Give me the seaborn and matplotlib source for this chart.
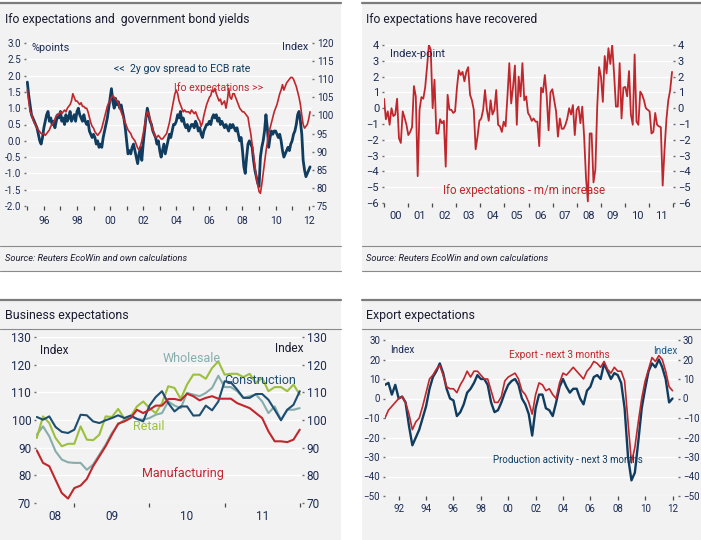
import numpy as np
import matplotlib
matplotlib.use("Agg")
import matplotlib.pyplot as plt
import seaborn as sns
from matplotlib.patches import Rectangle
from matplotlib.lines import Line2D

# ---------------- DATA ----------------
# Panel 1: monthly, Jan 1995 - Feb 2012
spread_2y = [
    1.8, 1.4, 1.1, 0.8, 0.7, 0.6, 0.5, 0.4, 0.2, 0.0, -0.1, 0.1,
    0.4, 0.6, 0.8, 0.9, 0.6, 0.7, 0.5, 0.6, 0.4, 0.6, 0.8, 0.7,
    0.9, 0.6, 0.7, 0.5, 0.8, 0.6, 0.7, 0.9, 0.6, 0.7, 0.8, 0.6,
    0.9, 1.0, 0.8, 0.7, 0.6, 0.8, 0.6, 0.5, 0.6, 0.3, 0.2, 0.1,
    0.2, 0.1, -0.1, 0.0, -0.2, -0.1, -0.2, 0.1, 0.3, 0.5, 0.7, 1.0,
    1.3, 1.6, 1.2, 1.0, 1.3, 1.1, 1.2, 1.0, 1.1, 0.9, 0.7, 0.4,
    0.0, -0.4, -0.3, -0.4, -0.2, -0.1, -0.3, -0.5, -0.7, -0.4, -0.2, -0.6,
    -0.1, 0.3, 0.7, 1.0, 0.8, 0.6, 0.5, 0.3, 0.2, 0.1, -0.1, 0.0,
    -0.3, -0.5, -0.3, -0.1, -0.4, -0.2, 0.0, 0.2, 0.1, 0.3, 0.5, 0.5,
    0.6, 0.8, 0.7, 0.9, 0.6, 0.7, 0.5, 0.4, 0.5, 0.3, 0.4, 0.5,
    0.5, 0.4, 0.6, 0.5, 0.3, 0.4, 0.2, 0.1, 0.3, 0.4, 0.5, 0.5,
    0.6, 0.5, 0.7, 0.8, 0.7, 0.8, 0.6, 0.7, 0.5, 0.6, 0.5, 0.4,
    0.5, 0.4, 0.3, 0.5, 0.4, 0.5, 0.4, 0.3, 0.4, 0.2, 0.0, 0.1,
    -0.3, -0.8, -1.0, -0.5, -0.1, 0.0, -0.1, -0.2, -0.6, -0.9, -1.1, -1.3,
    -1.4, -0.5, -0.2, 0.0, 0.3, 0.8, 0.4, -0.2, 0.1, 0.3, 0.2, 0.3,
    0.3, 0.2, 0.1, 0.2, 0.0, -0.3, -0.5, -0.4, -0.3, -0.2, -0.3, -0.1,
    0.0, 0.2, 0.3, 0.5, 0.8, 0.9, 0.6, 0.2, -0.6, -0.9, -1.1, -1.0,
    -0.9, -0.8,
]
ifo_expect = [
    107, 104, 101, 100.5, 99, 98, 97.5, 96.5, 96, 95.5, 95, 95,
    95, 94.5, 95, 95.5, 96, 97, 97.5, 98, 99, 100, 100, 100.5,
    101, 100.5, 101, 101.5, 101, 102, 102.5, 103, 104, 106, 105, 104,
    104, 103.5, 103, 103.5, 102.5, 102.5, 102, 102, 101, 99.5, 98, 97,
    96.5, 95.5, 95, 94.5, 95, 95.5, 96.5, 98, 99.5, 101, 102.5, 103.5,
    104, 105, 105.5, 105, 104.5, 104, 103.5, 102, 101, 100, 99, 98,
    97, 96, 95.5, 95, 94, 93.5, 93, 92, 91, 90.5, 91.5, 93,
    95, 97, 99.5, 101, 100.5, 99, 97.5, 96, 95, 94, 94, 94.5,
    94, 93.5, 93.5, 94, 94.5, 95, 96.5, 98, 100, 102, 104, 106,
    107, 106, 104, 103, 102, 101, 101.5, 101, 101, 101, 100.5, 101.5,
    101, 100.5, 101, 100, 99, 98.5, 97, 98, 100, 101.5, 103, 104,
    105, 105.5, 107, 106.5, 107.5, 106, 105, 104, 104.5, 103, 103.5, 104,
    102, 104, 107.5, 105, 104.5, 106, 106, 105, 104, 103, 102, 101.5,
    101, 101, 100.5, 100, 99.5, 97, 95, 92, 89, 86, 83, 81,
    79, 78.5, 81, 84, 87, 90, 92.5, 95, 96.5, 98, 99.5, 101,
    102, 103, 104.5, 106, 107, 108.5, 107, 108, 109, 109.5, 110, 110.5,
    110.5, 110, 109, 108, 106.5, 105, 103, 100, 97.5, 96.5, 97, 97.5,
    99, 101,
]

# Panel 2: Ifo expectations m/m change, 2000 - end 2011
ifo_mm = [
    0.6, -0.7, -0.2, -1.05, 0.0, -0.5, -0.4, 0.6, -1.9, -2.2, -0.2, -0.6,
    -1.05, -1.7, -1.5, -1.2, 1.4, 0.75, -4.3, -0.1, 0.7, 0.6, 1.3, 2.6,
    4.0, 3.7, 0.0, 1.8, -1.6, -1.6, -0.7, -0.95, -0.8, -3.7, 0.85, -0.1,
    -0.1, -0.3, -0.2, 1.3, 2.4, 2.1, 2.3, 1.7, 2.3, 2.6, 0.85, 0.5,
    -0.1, -2.6, -1.8, -0.8, -0.65, -0.1, 1.15, -0.1, -0.8, 0.5, -0.4, -0.1,
    1.15, -1.05, -1.15, -1.5, -0.85, -1.15, 0.75, 2.85, 0.3, 1.35, 2.7, -1.05,
    2.0, 0.75, 2.85, 0.5, 0.75, -0.3, -0.5, -0.8, -0.65, -0.85, -0.85, -2.4,
    1.3, 1.0, 2.1, 0.75, -1.4, 1.0, 1.2, 0.5, -0.2, -1.8, -0.65, -1.3,
    -1.3, -1.05, -0.65, 0.0, -0.4, 0.2, -1.7, -0.1, 0.1, -0.95, 0.1, -1.8,
    -4.4, -5.9, -1.6, -1.6, -4.7, -3.9, 0.1, 2.6, 2.0, 0.4, 3.3, 2.2,
    3.8, 2.8, 4.0, 2.2, 0.1, 0.1, 2.85, -0.65, 1.3, 1.35, 0.75, 2.35,
    -0.4, -1.05, 3.4, -0.85, -1.05, 1.05, 0.85, 0.5, 0.0, -0.1, -0.2, -1.6,
    -1.5, -0.3, -1.05, -1.15, -1.2, -4.9, -2.6, -0.7, 0.5, 1.15, 2.3,
]

# Panel 3: monthly, Jul 2008 - Jan 2012
manufacturing = [
    89.0, 84.5, 83.3, 78.4, 73.6, 71.6, 75.4, 76.3, 78.7, 83.3, 86.9, 90.5,
    94.7, 98.7, 99.5, 100.7, 103.7, 102.5, 103.7, 105.2, 105.2, 107.6, 107.6, 107.1,
    109.5, 108.6, 107.1, 108.0, 108.6, 107.7, 107.7, 107.7, 106.1, 105.2, 104.3, 102.5,
    100.7, 95.9, 92.3, 92.3, 92.0, 92.9, 96.5,
]
construction = [
    101.1, 100.1, 101.3, 97.5, 95.7, 95.3, 96.5, 101.9, 101.7, 99.5, 98.9, 99.9,
    100.7, 101.7, 100.7, 101.6, 100.4, 99.5, 105.2, 108.3, 110.4, 106.1, 103.1, 104.9,
    104.9, 101.6, 101.7, 105.2, 103.5, 106.7, 114.0, 113.6, 111.0, 108.0, 108.0, 109.4,
    109.4, 107.3, 103.7, 99.9, 103.7, 105.5, 110.4,
]
wholesale = [
    94.7, 97.7, 94.1, 88.7, 85.7, 84.7, 84.5, 84.5, 82.0, 83.9, 87.5, 91.1,
    95.3, 98.3, 100.1, 101.3, 100.4, 100.1, 100.7, 101.9, 102.5, 106.7, 105.2, 104.3,
    109.8, 109.2, 108.6, 109.8, 111.6, 116.0, 111.9, 111.9, 110.4, 108.0, 108.6, 109.2,
    106.7, 102.5, 104.9, 100.1, 103.7, 103.7, 104.3,
]
retail = [
    93.5, 101.3, 98.9, 93.5, 90.5, 91.4, 91.4, 97.7, 92.9, 92.7, 94.7, 101.3,
    101.1, 104.0, 100.5, 101.3, 104.9, 106.7, 104.3, 102.5, 106.1, 112.2, 111.6, 107.6,
    112.8, 116.4, 116.4, 114.9, 118.8, 121.2, 116.4, 116.7, 116.7, 115.5, 116.7, 113.4,
    115.2, 110.4, 111.9, 111.9, 110.4, 112.8, 109.2,
]

# Panel 4: quarterly, 1991 - 2012
export_3m = [
    -10, -6, -4, -2, 0, 1, -2, -8, -16, -12, -10, -4, 3, 10, 12, 15,
    17, 12, 6, 5, 5, 3, 7, 10, 14, 11, 14, 14, 12, 10, 10, 4,
    -2, -2, 1, 9, 11, 12, 13, 10, 4, 2, -2, -8, 2, 8, 7, 4,
    5, 2, 0, 8, 13, 12, 14, 16, 14, 12, 10, 14, 16, 19, 18, 16,
    19, 15, 13, 16, 14, 14, 9, -12, -33, -25, -12, 0, 9, 15, 21, 19,
    22, 20, 14, 6, 4,
]
production_3m = [
    7, 8, 2, 7, 0, 1, -2, -14, -24, -20, -16, -10, -4, 5, 11, 14,
    18, 13, 5, 0, -1, -9, -7, -3, 3, 5, 8, 12, 10, 10, 7, -2,
    -7, -6, -2, 3, 7, 9, 10, 7, 0, -3, -8, -19, -5, 2, 2, -5,
    -6, -9, -2, 6, 10, 6, 3, 5, 5, 0, -3, 4, 6, 11, 12, 10,
    18, 14, 10, 13, 12, 8, -5, -30, -42, -38, -22, -5, 5, 14, 18, 16,
    20, 16, 10, -2, 0,
]

# time axes (decimal years)
t1 = 1995 + np.arange(len(spread_2y)) / 12
t2 = np.linspace(2000.0, 2011.96, len(ifo_mm))
t3 = 2008.5 + np.arange(len(manufacturing)) / 12
t4 = 1991 + np.arange(len(export_3m)) / 4

# ---------------- STYLE ----------------
sns.set_theme(style="white")
plt.rcParams['font.family'] = ['Roboto', 'DejaVu Sans']

W, H = 701, 540
fig = plt.figure(figsize=(W / 100, H / 100), dpi=100)
fig.patch.set_facecolor('white')

BG = '#f2f2f2'
NAVY = '#1c2b52'
TXT = '#1b1b30'
BLUE = '#0f3c5f'
RED = '#c0272d'
WHOLE = '#86adab'
RETAIL = '#9cc03c'
CONSTR = '#1e4d72'
GRAYLINE = '#8a8a8a'


def px_box(x0, y0, x1, y1):
    return [x0 / W, 1 - y1 / H, (x1 - x0) / W, (y1 - y0) / H]


def ftext(x, y, s, **kw):
    kw.setdefault('va', 'center')
    kw.setdefault('color', TXT)
    fig.text(x / W, 1 - y / H, s, **kw)


def hline(x0, x1, y, lw, color=GRAYLINE):
    fig.add_artist(Line2D([x0 / W, x1 / W], [1 - y / H, 1 - y / H],
                          transform=fig.transFigure, lw=lw, color=color, zorder=1))


# panel backgrounds
for (x0, y0, x1, y1) in [(0, 2, 341, 271), (362, 2, 701, 271), (0, 299, 341, 540), (362, 299, 701, 540)]:
    b = px_box(x0, y0, x1, y1)
    fig.add_artist(Rectangle((b[0], b[1]), b[2], b[3], transform=fig.transFigure,
                             facecolor=BG, edgecolor='none', zorder=0))

for (xa, xb) in [(0, 341), (362, 701)]:
    hline(xa, xb, 2.5, 1.6, '#7c7c7c')
    hline(xa, xb, 246, 0.8)
    hline(xa, xb, 271, 0.8)
    hline(xa, xb, 299.5, 1.6, '#7c7c7c')
    hline(xa, xb, 328.5, 0.8)


def style(ax, fs, xfs=None, both=False):
    ax.set_facecolor(BG)
    for s in ax.spines.values():
        s.set_visible(False)
    ax.set_axisbelow(True)
    ax.grid(axis='y', color='white', lw=1.0)
    ax.grid(axis='x', visible=False)
    ax.tick_params(axis='y', which='both', length=1.5, width=1.0, color='#6d6d6d', pad=2,
                   labelsize=fs, labelcolor=NAVY, left=True, right=both, labelright=both)
    ax.tick_params(axis='x', which='major', length=3, width=0.9, color='#4a4a4a', pad=2,
                   labelsize=xfs or fs, labelcolor=NAVY, bottom=True)
    ax.set_xlabel('')
    ax.set_ylabel('')


# ---------------- PANEL 1 ----------------
ax1 = fig.add_axes(px_box(26, 43, 312, 206))
style(ax1, 7, 7.5)
sns.lineplot(x=t1, y=spread_2y, ax=ax1, color=BLUE, lw=2.0)
ax1.set_ylim(-2.0, 3.0)
ax1.set_yticks(np.arange(-2.0, 3.01, 0.5))
ax1.set_yticklabels([f"{v:.1f}" for v in np.arange(-2.0, 3.01, 0.5)])
yrs = np.arange(1995, 2013)
ax1.set_xticks(yrs)
ax1.set_xticklabels([f"{y % 100:02d}" if y % 2 == 0 else '' for y in yrs])
ax1.tick_params(axis='x', pad=4)
ax1r = ax1.twinx()
ax1r.set_facecolor('none')
for s in ax1r.spines.values():
    s.set_visible(False)
sns.lineplot(x=t1, y=ifo_expect, ax=ax1r, color=RED, lw=1.2)
ax1r.set_ylim(75, 120)
ax1r.set_yticks(np.arange(75, 121, 5))
ax1r.tick_params(axis='y', length=1.5, width=1.0, color='#6d6d6d', pad=2, labelsize=7, labelcolor=NAVY)
ax1r.grid(False)
ax1r.set_ylabel('')
ax1.set_xlim(1994.92, 2012.2)

ftext(5, 19, "Ifo expectations and  government bond yields", fontsize=8.7)
ftext(32, 48, "%points", fontsize=7.8, color=NAVY)
ftext(308, 47, "Index", fontsize=7.8, color=NAVY, ha='right')
ftext(182, 69, "<<  2y gov spread to ECB rate", fontsize=7.6, color=BLUE, ha='center')
ftext(219, 88, "Ifo expectations >>", fontsize=7.6, color=RED, ha='center')
ftext(5, 258, "Source: Reuters EcoWin and own calculations", fontsize=6.7, style='italic')

# ---------------- PANEL 2 ----------------
ax2 = fig.add_axes(px_box(384, 45, 673, 203))
style(ax2, 8, 8, both=True)
sns.lineplot(x=t2, y=ifo_mm, ax=ax2, color=RED, lw=1.3)
ax2.set_ylim(-6, 4)
ax2.set_yticks(np.arange(-6, 5, 1))
ax2.set_xlim(2000.0, 2012.0)
ax2.set_xticks(np.arange(2000, 2013))
ax2.set_xticklabels([])
ax2.set_xticks(np.arange(2000, 2012) + 0.5, minor=True)
ax2.set_xticklabels([f"{y % 100:02d}" for y in range(2000, 2012)], minor=True)
ax2.tick_params(axis='x', which='minor', length=0, pad=6, labelsize=8, labelcolor=NAVY)

ftext(366, 19, "Ifo expectations have recovered", fontsize=8.7)
ftext(390, 54, "Index-point", fontsize=8, color=NAVY)
ftext(524, 191, "Ifo expectations - m/m increase", fontsize=8.3, color=RED, ha='center')
ftext(366, 258, "Source: Reuters EcoWin and own calculations", fontsize=6.7, style='italic')

# ---------------- PANEL 3 ----------------
ax3 = fig.add_axes(px_box(36, 337, 302, 503))
style(ax3, 8.5, 8.5, both=True)
sns.lineplot(x=t3, y=wholesale, ax=ax3, color=WHOLE, lw=1.5)
sns.lineplot(x=t3, y=retail, ax=ax3, color=RETAIL, lw=1.5)
sns.lineplot(x=t3, y=construction, ax=ax3, color=CONSTR, lw=1.5)
sns.lineplot(x=t3, y=manufacturing, ax=ax3, color=RED, lw=1.5)
ax3.set_ylim(70, 130)
ax3.set_yticks(np.arange(70, 131, 10))
ax3.set_xlim(2008.49, 2012.03)
ax3.set_xticks([2009, 2010, 2011, 2012])
ax3.set_xticklabels([])
ax3.set_xticks([2008.74, 2009.5, 2010.5, 2011.5], minor=True)
ax3.set_xticklabels(["08", "09", "10", "11"], minor=True)
ax3.tick_params(axis='x', which='minor', length=0, pad=5, labelsize=8.5, labelcolor=NAVY)

ftext(5, 316, "Business expectations", fontsize=8.9)
ftext(40, 351, "Index", fontsize=8.6, color=TXT)
ftext(304, 349, "Index", fontsize=8.6, color=TXT, ha='right')
ftext(192, 359, "Wholesale", fontsize=9, color=WHOLE, ha='center')
ftext(260, 380, "Construction", fontsize=9, color=CONSTR, ha='center')
ftext(149, 426, "Retail", fontsize=9, color=RETAIL, ha='center')
ftext(183, 474, "Manufacturing", fontsize=9, color=RED, ha='center')

# ---------------- PANEL 4 ----------------
ax4 = fig.add_axes(px_box(385, 340, 678, 496))
style(ax4, 7, 7, both=True)
sns.lineplot(x=t4, y=production_3m, ax=ax4, color=BLUE, lw=1.7)
sns.lineplot(x=t4, y=export_3m, ax=ax4, color=RED, lw=1.2)
ax4.set_ylim(-50, 30)
ax4.set_yticks(np.arange(-50, 31, 10))
ax4.set_xlim(1991.0, 2012.4)
ax4.set_xticks(np.arange(1992, 2013, 2))
ax4.set_xticklabels([f"{y % 100:02d}" for y in range(1992, 2013, 2)])
ax4.tick_params(axis='x', length=3, pad=3)

ftext(366, 316, "Export expectations", fontsize=8.9)
ftext(390, 350, "Index", fontsize=7.2, color=NAVY)
ftext(677, 351, "Index", fontsize=7.2, color='#1f5a86', ha='right')
ftext(559, 355, "Export - next 3 months", fontsize=7.2, color=RED, ha='center')
ftext(568, 460, "Production activity - next 3 months", fontsize=7, color=BLUE, ha='center')

fig.savefig("out.png", dpi=100)
